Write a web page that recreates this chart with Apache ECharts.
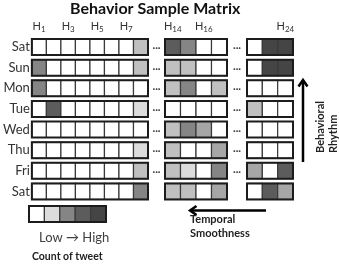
<!DOCTYPE html>
<html>
<head>
<meta charset="utf-8">
<script src="https://cdn.jsdelivr.net/npm/echarts@6/dist/echarts.min.js"></script>
<style>
  html, body { margin: 0; padding: 0; background: #fff; }
  #chart { width: 339px; height: 266px; }
</style>
</head>
<body>
<div id="chart"></div>
<script>
// rows top to bottom
const dayLabels = ['Sat', 'Sun', 'Mon', 'Tue', 'Wed', 'Thu', 'Fri', 'Sat'];
// the three hour blocks drawn in the matrix
const hoursA = [1, 2, 3, 4, 5, 6, 7, 8];
const hoursB = [14, 15, 16, 17];
const hoursC = [22, 23, 24];
const shownHours = [1, 3, 5, 7, 14, 16, 24];

// tweet count level per cell (0 = none, 6 = most), one array per row
const levelsA = [
  [0, 0, 0, 0, 0, 0, 0, 2],
  [4, 0, 0, 0, 0, 0, 0, 2],
  [4, 0, 0, 0, 0, 0, 0, 0],
  [0, 5, 0, 0, 0, 0, 0, 1],
  [0, 0, 0, 0, 0, 0, 0, 0],
  [0, 0, 0, 0, 0, 0, 0, 1],
  [0, 0, 0, 0, 0, 0, 0, 2],
  [0, 0, 0, 0, 0, 0, 0, 4]
];
const levelsB = [
  [5, 4, 0, 0],
  [2, 2, 0, 0],
  [2, 4, 0, 2],
  [0, 0, 0, 0],
  [2, 4, 3, 0],
  [2, 0, 0, 3],
  [2, 1, 0, 4],
  [2, 2, 0, 3]
];
const levelsC = [
  [0, 6, 6],
  [0, 6, 6],
  [0, 0, 0],
  [2, 0, 0],
  [0, 0, 0],
  [0, 0, 0],
  [3, 0, 5],
  [0, 5, 3]
];
const legendLevels = [0, 1, 4, 5, 6];
const levelColors = ['#ffffff', '#dcdcdc', '#c0c0c0', '#a6a6a6', '#858585', '#5c5c5c', '#454545'];

const cellH = 16;
const font = 'Lato';

function toCells(levels) {
  const out = [];
  levels.forEach((row, r) => row.forEach((v, c) => out.push([c, r, v])));
  return out;
}

function renderCell(params, api) {
  const c = api.coord([api.value(0), api.value(1)]);
  const bw = api.size([1, 1])[0];
  return {
    type: 'rect',
    shape: { x: c[0] - bw / 2, y: c[1] - cellH / 2, width: bw, height: cellH },
    style: { fill: levelColors[api.value(2)], stroke: '#3a3a3a', lineWidth: 1.2 }
  };
}

// thick outline around a whole row of a block
function rowOutline(ncols) {
  return (params, api) => {
    const a = api.coord([0, api.value(1)]);
    const b = api.coord([ncols - 1, api.value(1)]);
    const bw = api.size([1, 1])[0];
    return {
      type: 'rect',
      shape: { x: a[0] - bw / 2, y: a[1] - cellH / 2, width: b[0] - a[0] + bw, height: cellH },
      style: { fill: 'none', stroke: '#1c1c1c', lineWidth: 2 }
    };
  };
}

// "..." after a block, on every row but the last
function rowDots(ncols, gap) {
  return (params, api) => {
    const c = api.coord([ncols - 1, api.value(1)]);
    const bw = api.size([1, 1])[0];
    return {
      type: 'text',
      x: c[0] + bw / 2 + gap,
      y: c[1] + 1,
      style: { text: '···', fill: '#444', font: 'bold 10px ' + font, align: 'center', verticalAlign: 'middle' }
    };
  };
}

const rowIdx = dayLabels.map((d, i) => i);
const blocks = [hoursA, hoursB, hoursC];
const blockLevels = [levelsA, levelsB, levelsC];

const chart = echarts.init(document.getElementById('chart'), null, { renderer: 'canvas' });

const xAxes = blocks.map((hours, k) => ({
  type: 'category',
  gridIndex: k,
  position: 'top',
  data: hours.map(String),
  axisLine: { show: false },
  axisTick: { show: false },
  axisLabel: {
    interval: 0,
    margin: 3,
    formatter: v => shownHours.includes(+v) ? `{h|H}{s|${v}}` : '',
    rich: {
      h: { fontFamily: font, fontSize: 11, color: '#333' },
      s: { fontFamily: font, fontSize: 8, color: '#333', padding: [7, 0, 0, 0] }
    }
  }
}));
xAxes.push({ type: 'category', gridIndex: 3, data: legendLevels.map(String), show: false });

const yAxes = blocks.map((hours, k) => ({
  type: 'category',
  gridIndex: k,
  inverse: true,
  data: rowIdx.map(String),
  axisLine: { show: false },
  axisTick: { show: false },
  axisLabel: {
    show: k === 0,
    margin: 2,
    fontFamily: font,
    fontSize: 13,
    color: '#333',
    formatter: v => dayLabels[+v]
  }
}));
yAxes.push({ type: 'category', gridIndex: 3, data: ['0'], show: false });

const series = [];
blocks.forEach((hours, k) => {
  series.push({
    type: 'custom', xAxisIndex: k, yAxisIndex: k, z: 2,
    renderItem: renderCell, data: toCells(blockLevels[k])
  });
  series.push({
    type: 'custom', xAxisIndex: k, yAxisIndex: k, z: 3,
    renderItem: rowOutline(hours.length), data: rowIdx.map(r => [0, r])
  });
});
series.push({
  type: 'custom', xAxisIndex: 0, yAxisIndex: 0, z: 3,
  renderItem: rowDots(hoursA.length, 8.5), data: rowIdx.slice(0, 7).map(r => [0, r])
});
series.push({
  type: 'custom', xAxisIndex: 1, yAxisIndex: 1, z: 3,
  renderItem: rowDots(hoursB.length, 10), data: rowIdx.slice(0, 7).map(r => [0, r])
});
// legend strip: low -> high
series.push({
  type: 'custom', xAxisIndex: 3, yAxisIndex: 3, z: 2,
  renderItem: renderCell, data: legendLevels.map((v, i) => [i, 0, v])
});
series.push({
  type: 'custom', xAxisIndex: 3, yAxisIndex: 3, z: 3,
  renderItem: rowOutline(legendLevels.length), data: [[0, 0]]
});

const option = {
  animation: false,
  title: {
    text: 'Behavior Sample Matrix',
    left: 70,
    top: 1,
    padding: 0,
    textStyle: { fontFamily: font, fontSize: 16, fontWeight: 'bold', color: '#111' }
  },
  grid: [
    { left: 26, top: 36.7, width: 122, height: 165 },
    { left: 165, top: 36.7, width: 62, height: 165 },
    { left: 247, top: 36.7, width: 46, height: 165 },
    { left: 29, top: 204, width: 77, height: 20 }
  ],
  xAxis: xAxes,
  yAxis: yAxes,
  series: series,
  graphic: [
    // behavioral rhythm arrow (up)
    { type: 'line', shape: { x1: 303, y1: 162, x2: 303, y2: 81 }, style: { stroke: '#000', lineWidth: 2.5 } },
    { type: 'polyline', shape: { points: [[298.5, 86.5], [303, 80], [307.5, 86.5]] }, style: { stroke: '#000', lineWidth: 2.5, fill: null } },
    { type: 'text', x: 320, y: 153, rotation: Math.PI / 2,
      style: { text: 'Behavioral', font: 'bold 11px ' + font, fill: '#222', align: 'left', verticalAlign: 'middle' } },
    { type: 'text', x: 333, y: 153, rotation: Math.PI / 2,
      style: { text: 'Rhythm', font: 'bold 11px ' + font, fill: '#222', align: 'left', verticalAlign: 'middle' } },
    // temporal smoothness arrow (left)
    { type: 'line', shape: { x1: 266, y1: 210.5, x2: 191, y2: 210.5 }, style: { stroke: '#000', lineWidth: 2.5 } },
    { type: 'polyline', shape: { points: [[196.5, 206], [190, 210.5], [196.5, 215]] }, style: { stroke: '#000', lineWidth: 2.5, fill: null } },
    { type: 'text', x: 190, y: 219,
      style: { text: 'Temporal', font: 'bold 11px ' + font, fill: '#222', align: 'left', verticalAlign: 'middle' } },
    { type: 'text', x: 190, y: 233,
      style: { text: 'Smoothness', font: 'bold 11px ' + font, fill: '#222', align: 'left', verticalAlign: 'middle' } },
    // legend captions
    { type: 'text', x: 39, y: 238,
      style: { text: 'Low \u2192 High', font: '13px ' + font, fill: '#404040', align: 'left', verticalAlign: 'middle' } },
    { type: 'text', x: 32, y: 257,
      style: { text: 'Count of tweet', font: 'bold 10.5px ' + font, fill: '#222', align: 'left', verticalAlign: 'middle' } }
  ]
};

chart.setOption(option);
</script>
</body>
</html>
